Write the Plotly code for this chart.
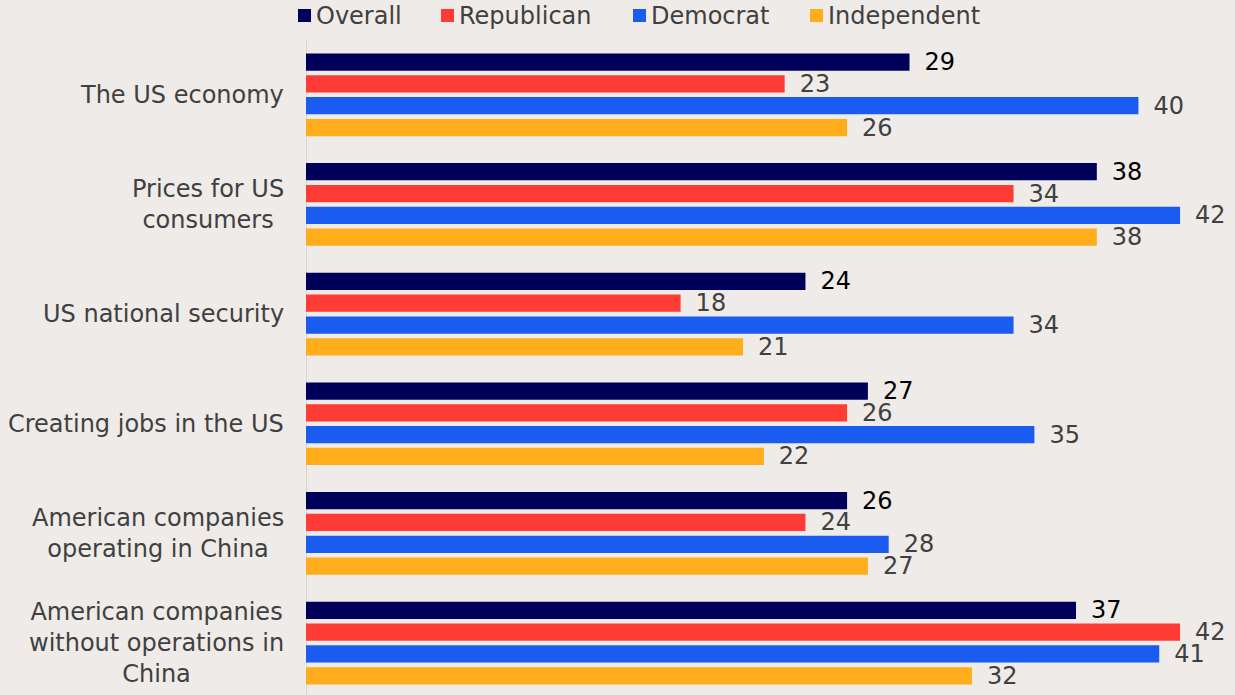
import plotly.graph_objects as go

categories = [
    "The US economy",
    "Prices for US<br>consumers",
    "US national security",
    "Creating jobs in the US",
    "American companies<br>operating in China",
    "American companies<br>without operations in<br>China",
]
overall = [29, 38, 24, 27, 26, 37]
republican = [23, 34, 18, 26, 24, 42]
democrat = [40, 42, 34, 35, 28, 41]
independent = [26, 38, 21, 22, 27, 32]

series_names = ["Overall", "Republican", "Democrat", "Independent"]
series_values = [overall, republican, democrat, independent]
bar_colors = ["#00005a", "#ff3b36", "#1a5cf0", "#ffad1a"]
label_colors = ["#000000", "#404040", "#404040", "#404040"]

FONT = "DejaVu Sans"
FSIZE = 24
BG = "#efebe8"
TEXT = "#404040"

W, H = 1235, 695
ML, MR, MT, MB = 306, 0, 40, 0
PW, PH = W - ML - MR, H - MT - MB


def px_to_paper_x(px):
    return (px - ML) / PW


def px_to_paper_y(py):
    return (H - MB - py) / PH


fig = go.Figure()
ypos = list(range(len(categories)))
for name, vals, color, tcolor in zip(series_names, series_values, bar_colors, label_colors):
    fig.add_trace(go.Bar(
        name=name,
        y=ypos,
        x=vals,
        orientation="h",
        marker=dict(color=color, line=dict(width=0)),
        text=vals,
        texttemplate="\u2002%{x}",
        textposition="outside",
        constraintext="none",
        textfont=dict(family=FONT, size=FSIZE, color=tcolor),
        cliponaxis=False,
        showlegend=False,
    ))

# category labels: lines centred, the block right-aligned against the axis
for i, cat in enumerate(categories):
    fig.add_annotation(
        x=0, xref="paper", y=i, yref="y",
        text=cat, showarrow=False,
        xanchor="right", yanchor="middle", align="center",
        xshift=-20,
        font=dict(family=FONT, size=FSIZE, color=TEXT),
    )

# legend row across the top: coloured square followed by the series name
legend_left = [298, 441, 633, 810]
for name, color, x0 in zip(series_names, bar_colors, legend_left):
    fig.add_shape(
        type="rect", xref="paper", yref="paper",
        x0=px_to_paper_x(x0), x1=px_to_paper_x(x0 + 13),
        y0=px_to_paper_y(22), y1=px_to_paper_y(9),
        fillcolor=color, line=dict(width=0),
    )
    fig.add_annotation(
        x=px_to_paper_x(x0 + 16), xref="paper",
        y=px_to_paper_y(15.5), yref="paper",
        text=name, showarrow=False,
        xanchor="left", yanchor="middle",
        font=dict(family=FONT, size=FSIZE, color=TEXT),
    )

fig.update_layout(
    width=W, height=H,
    margin=dict(l=ML, r=MR, t=MT, b=MB),
    paper_bgcolor=BG, plot_bgcolor=BG,
    barmode="group", bargap=0.204, bargroupgap=0.21,
    showlegend=False,
    xaxis=dict(range=[0, 44.64], visible=False, fixedrange=True),
    yaxis=dict(
        range=[5.474, -0.5], showticklabels=False, showgrid=False,
        zeroline=False, showline=False, ticks="",
    ),
)

# vertical baseline at zero
fig.add_shape(type="line", xref="x", yref="paper", x0=0, x1=0,
              y0=0, y1=1,
              line=dict(color="#d9d5d1", width=2), layer="below")

fig.write_html("out.html")
